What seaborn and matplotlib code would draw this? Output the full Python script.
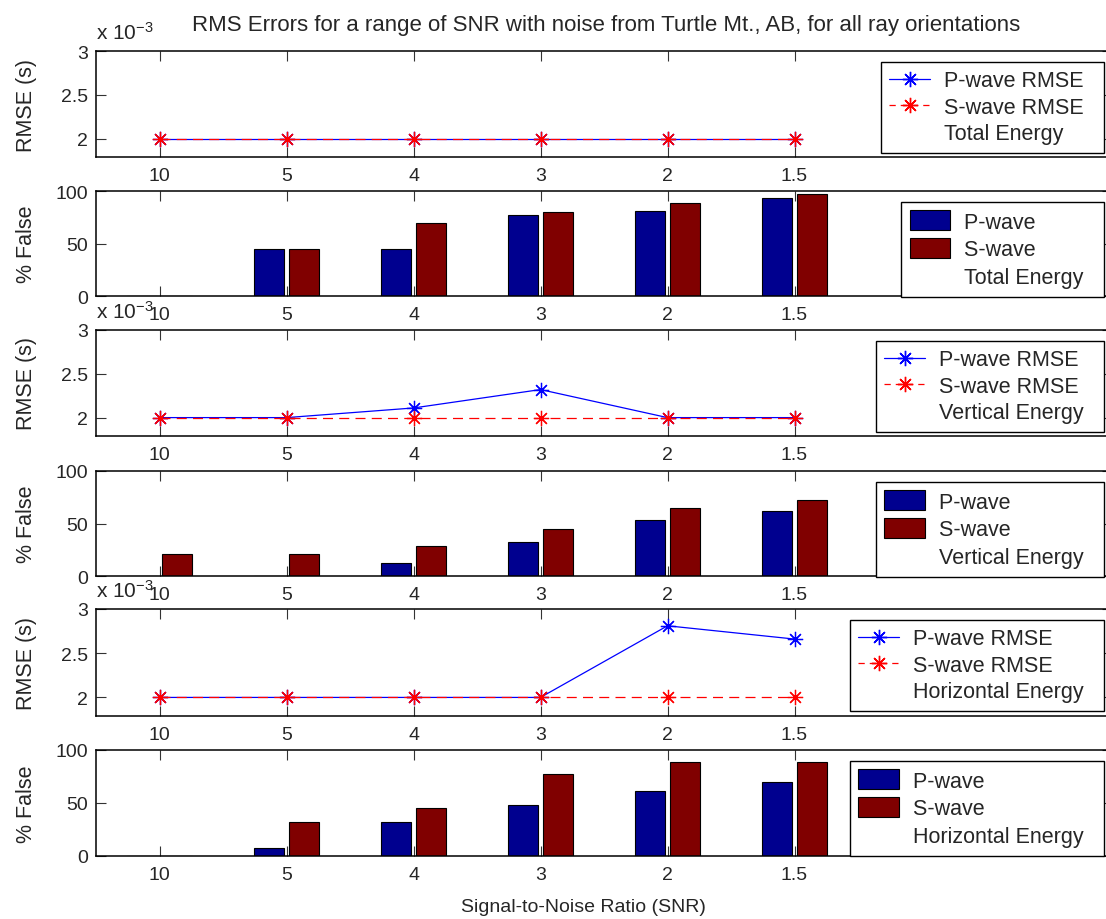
import numpy as np
import pandas as pd
import matplotlib
matplotlib.use("Agg")
import matplotlib.pyplot as plt
from matplotlib.lines import Line2D
from matplotlib.patches import Patch
from matplotlib.ticker import FuncFormatter
import seaborn as sns

# ---------------- data ----------------
snr_labels = ["10", "5", "4", "3", "2", "1.5"]

# RMSE (seconds)
rmse_total_p = [0.0020, 0.0020, 0.0020, 0.0020, 0.0020, 0.0020]
rmse_total_s = [0.0020, 0.0020, 0.0020, 0.0020, 0.0020, 0.0020]
rmse_vert_p = [0.0020, 0.0020, 0.00211, 0.00232, 0.0020, 0.0020]
rmse_vert_s = [0.0020, 0.0020, 0.0020, 0.0020, 0.0020, 0.0020]
rmse_horz_p = [0.0020, 0.0020, 0.0020, 0.0020, 0.00281, 0.00266]
rmse_horz_s = [0.0020, 0.0020, 0.0020, 0.0020, 0.0020, 0.0020]

# % False
false_total_p = [0, 44.4, 44.4, 77.4, 80.8, 93.6]
false_total_s = [0, 44.4, 69.3, 80.2, 88.8, 96.8]
false_vert_p = [0, 0, 12.4, 32.4, 53.6, 61.9]
false_vert_s = [21.0, 21.0, 28.9, 45.0, 64.8, 72.7]
false_horz_p = [0, 8.0, 32.0, 48.0, 61.3, 69.5]
false_horz_s = [0, 32.0, 45.0, 77.7, 88.7, 88.7]

energy_names = ["Total Energy", "Vertical Energy", "Horizontal Energy"]

# ---------------- style ----------------
sns.set_style("white")
plt.rcParams["font.family"] = ["Liberation Sans", "DejaVu Sans"]
plt.rcParams["mathtext.default"] = "regular"
FS_TICK = 14
FS_LEG = 15.5
FS_LAB = 15.5
FS_TITLE = 16

W, H = 1106, 920
fig = plt.figure(figsize=(W / 100, H / 100), dpi=100)

left_px, right_px = 96, 1112
tops = [52, 192, 331, 472, 610, 751]
bots = [158, 297, 437, 577, 717, 857]

axes = []
for t, b in zip(tops, bots):
    ax = fig.add_axes([left_px / W, 1 - b / H, (right_px - left_px) / W, (b - t) / H])
    axes.append(ax)

pos = np.arange(len(snr_labels))
blue_line = "#0000ff"
red_line = "#ff0000"
bar_blue = "#00008f"
bar_red = "#800000"
star = (8, 2, 0)


def style_axis(ax):
    for s in ax.spines.values():
        s.set_color("black")
        s.set_linewidth(1.1)
        s.set_visible(True)
    ax.set_xlim(-0.5, 7.5)
    ax.set_xticks(pos)
    ax.set_xticklabels(snr_labels)
    ax.tick_params(axis="both", direction="in", length=7, width=0.8, color="#333333",
                   labelsize=FS_TICK, top=True, right=True, bottom=True, left=True)
    ax.tick_params(axis="x", pad=7)
    ax.tick_params(axis="y", pad=6)
    ax.set_xlabel("")


def make_legend(ax, handles, labels, top_px, hh):
    labels = [lab + "  " for lab in labels]
    leg = ax.legend(handles, labels, loc="upper right",
                    bbox_to_anchor=(1104 / W, 1 - (top_px + 11) / H),
                    bbox_transform=fig.transFigure, borderaxespad=0,
                    fontsize=FS_LEG, frameon=True, fancybox=False, framealpha=1,
                    edgecolor="black", handlelength=1.9, handleheight=hh,
                    handletextpad=0.65, labelspacing=0.26, borderpad=0.38)
    leg.get_frame().set_linewidth(1.0)
    return leg


rmse_sets = [(rmse_total_p, rmse_total_s), (rmse_vert_p, rmse_vert_s), (rmse_horz_p, rmse_horz_s)]
false_sets = [(false_total_p, false_total_s), (false_vert_p, false_vert_s), (false_horz_p, false_horz_s)]

for k in range(3):
    # ----- RMSE lines -----
    ax = axes[2 * k]
    p_vals, s_vals = rmse_sets[k]
    sns.lineplot(x=pos, y=p_vals, ax=ax, color=blue_line, lw=0.9, marker=star,
                 markersize=11, markeredgecolor=blue_line, markeredgewidth=0.9,
                 legend=False)
    sns.lineplot(x=pos, y=s_vals, ax=ax, color=red_line, lw=0.9, linestyle=(0, (8, 5)),
                 marker=star, markersize=11, markeredgecolor=red_line,
                 markeredgewidth=0.9, legend=False)
    style_axis(ax)
    ax.set_ylim(0.00179, 0.0030)
    ax.set_yticks([0.002, 0.0025, 0.003])
    ax.yaxis.set_major_formatter(FuncFormatter(lambda v, _: f"{v * 1e3:g}"))
    ax.set_ylabel("RMSE (s)", fontsize=FS_LAB)
    ax.yaxis.set_label_coords(-0.058, 0.5)
    ax.annotate(r"x 10$^{-3}$", xy=(0, 1), xycoords="axes fraction",
                xytext=(0, 9), textcoords="offset points", ha="left",
                va="baseline", fontsize=15)
    handles = [
        Line2D([], [], color=blue_line, lw=0.9, marker=star, markersize=11,
               markeredgecolor=blue_line),
        Line2D([], [], color=red_line, lw=0.9, linestyle=(0, (5, 4)), marker=star,
               markersize=11, markeredgecolor=red_line),
        Line2D([], [], color="none"),
    ]
    labels = ["P-wave RMSE", "S-wave RMSE", energy_names[k]]
    make_legend(ax, handles, labels, tops[2 * k], 0.7)

    # ----- % False bars -----
    ax = axes[2 * k + 1]
    p_vals, s_vals = false_sets[k]
    df = pd.DataFrame({
        "snr": snr_labels * 2,
        "pct": list(p_vals) + list(s_vals),
        "wave": ["P-wave"] * len(snr_labels) + ["S-wave"] * len(snr_labels),
    })
    sns.barplot(data=df, x="snr", y="pct", hue="wave", order=snr_labels,
                hue_order=["P-wave", "S-wave"], palette=[bar_blue, bar_red],
                width=0.56, gap=0.16, edgecolor="black", linewidth=0.8,
                saturation=1, legend=False, ax=ax)
    style_axis(ax)
    ax.set_ylim(0, 100)
    ax.set_yticks([0, 50, 100])
    ax.set_ylabel("% False", fontsize=FS_LAB)
    ax.yaxis.set_label_coords(-0.058, 0.5)
    handles = [
        Patch(facecolor=bar_blue, edgecolor="black", lw=0.8),
        Patch(facecolor=bar_red, edgecolor="black", lw=0.8),
        Patch(facecolor="none", edgecolor="none"),
    ]
    labels = ["P-wave", "S-wave", energy_names[k]]
    make_legend(ax, handles, labels, tops[2 * k + 1], 1.05)

fig.text(606 / W, 1 - 25 / H,
         "RMS Errors for a range of SNR with noise from Turtle Mt., AB, for all ray orientations",
         ha="center", va="center", fontsize=FS_TITLE)
fig.text(583 / W, 1 - 908 / H, "Signal-to-Noise Ratio (SNR)", ha="center",
         va="center", fontsize=14)

fig.savefig("out.png", dpi=100)
